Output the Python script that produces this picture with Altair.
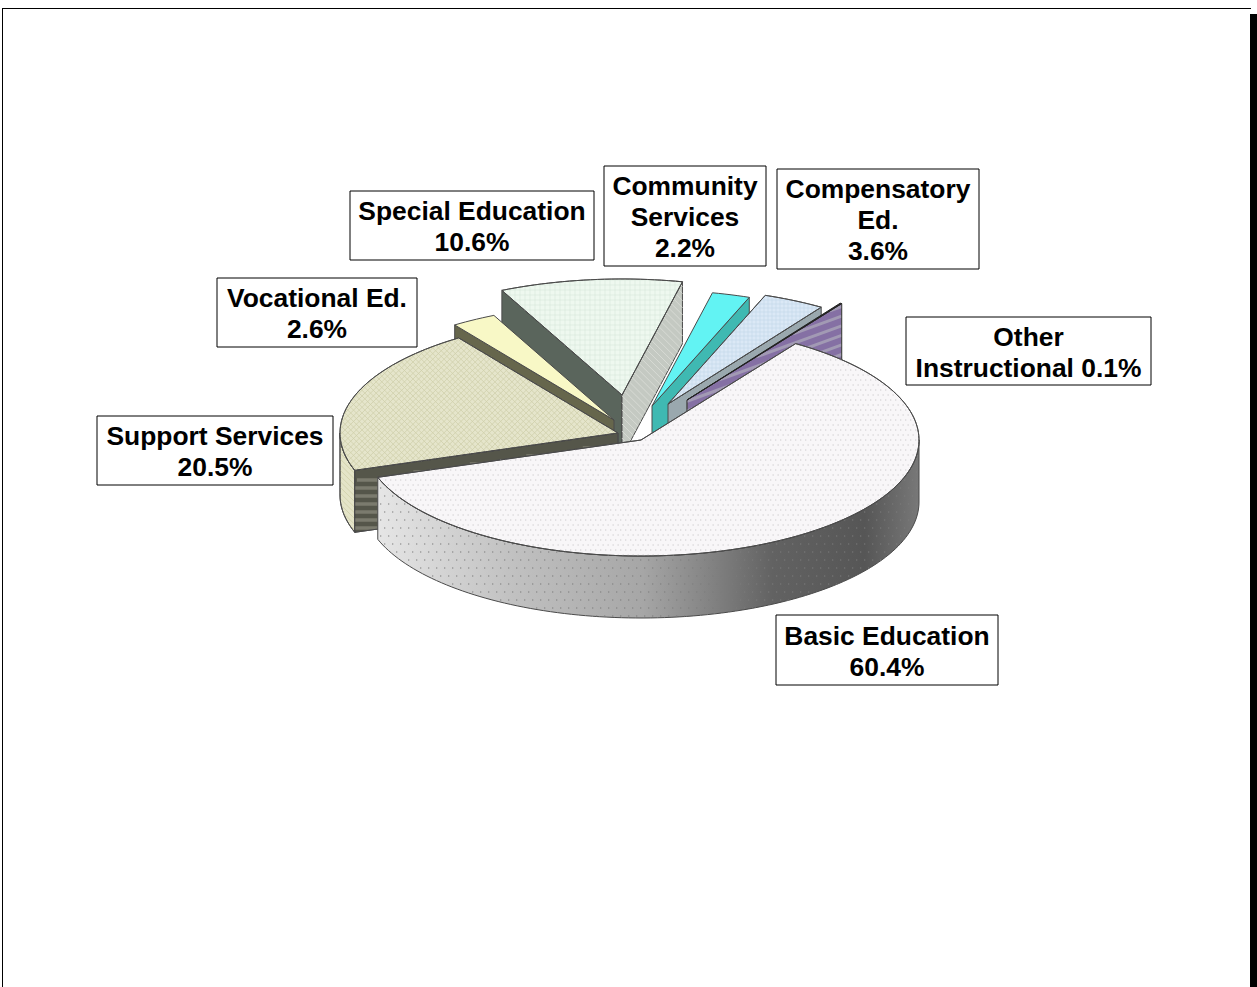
import numpy as np
import altair as alt

# Shares of spending, clockwise from the large front slice
categories = ["Basic Education", "Support Services", "Vocational Ed.", "Special Education",
              "Community Services", "Compensatory Ed.", "Other Instructional"]
shares = [60.4, 20.5, 2.6, 10.6, 2.2, 3.6, 0.1]
label_lines = [["Basic Education", "60.4%"], ["Support Services", "20.5%"], ["Vocational Ed.", "2.6%"],
               ["Special Education", "10.6%"], ["Community", "Services", "2.2%"],
               ["Compensatory", "Ed.", "3.6%"], ["Other", "Instructional 0.1%"]]

W, H = 1257, 987
RX, RY, DEPTH = 278.0, 116.0, 62.0
START = 33.8

# Apex of each exploded slice on the page
apex = [(641, 440), (618, 433), (614, 420), (622, 395), (652, 406), (668, 404), (687, 400)]
# Label boxes: left, right, top, bottom
boxes = [(776, 998, 615, 685), (97, 333, 416, 485), (217, 417, 278, 347), (350, 594, 191, 260),
         (604, 766, 166, 266), (777, 979, 169, 269), (906, 1151, 317, 385)]

EDGE = "#4a4a4a"


def pt(c, theta, drop=0.0):
    t = np.radians(theta)
    return (c[0] + RX * np.sin(t), c[1] - RY * np.cos(t) + drop)


def arc(c, a, b, drop=0.0):
    n = max(2, int(abs(b - a) / 1.5) + 2)
    return [pt(c, t, drop) for t in np.linspace(a, b, n)]


def spans(poly, step, angle, phase=0.0):
    """Scanline spans of a polygon, in a frame rotated by angle."""
    r = np.radians(angle)
    ca, sa = np.cos(r), np.sin(r)
    p = np.array(poly)
    u = p[:, 0] * ca + p[:, 1] * sa
    v = -p[:, 0] * sa + p[:, 1] * ca
    out = []
    k0 = np.floor(v.min() / step)
    k1 = np.ceil(v.max() / step)
    for k in np.arange(k0, k1 + 1):
        y = (k + phase) * step
        xs = []
        for i in range(len(p)):
            j = (i + 1) % len(p)
            if (v[i] <= y) != (v[j] <= y):
                xs.append(u[i] + (y - v[i]) / (v[j] - v[i]) * (u[j] - u[i]))
        xs.sort()
        for s in range(0, len(xs) - 1, 2):
            out.append((int(k), y, xs[s], xs[s + 1]))
    return out, ca, sa


def hatch(poly, step, angle=0.0):
    sp, ca, sa = spans(poly, step, angle)
    return [[[round(a * ca - y * sa, 2), round(a * sa + y * ca, 2)],
             [round(b * ca - y * sa, 2), round(b * sa + y * ca, 2)]] for _, y, a, b in sp]


def dots(poly, step, size=1.3):
    sp, _, _ = spans(poly, step, 0.0)
    lines = []
    for k, y, a, b in sp:
        off = step / 2 if k % 2 else 0.0
        for x in np.arange(np.ceil((a - off) / step) * step + off, b - size, step):
            lines.append([[round(float(x), 2), round(float(y), 2)], [round(float(x + size), 2), round(float(y), 2)]])
    return lines


def poly_feat(poly, fill, stroke=EDGE, sw=1.0):
    ring = [[round(float(x), 2), round(float(y), 2)] for x, y in poly]
    ring.append(ring[0])
    return {"type": "Feature", "properties": {"fill": fill, "stroke": stroke, "sw": sw},
            "geometry": {"type": "Polygon", "coordinates": [ring]}}


def line_feat(lines, color, sw=0.7):
    return {"type": "Feature", "properties": {"fill": "transparent", "stroke": color, "sw": sw},
            "geometry": {"type": "MultiLineString", "coordinates": lines}}


# Slice angle ranges come straight from the shares
ends = START + np.cumsum(np.array(shares) * 3.6)
starts = np.concatenate([[START], ends[:-1]])
idx = {name: i for i, name in enumerate(categories)}


def top(name):
    i = idx[name]
    return [apex[i]] + arc(apex[i], starts[i], ends[i])


def radial_wall(name, theta, upper=0.0):
    c = apex[idx[name]]
    o = pt(c, theta)
    return [(c[0], c[1] + upper), (o[0], o[1] + upper), (o[0], o[1] + DEPTH), (c[0], c[1] + DEPTH)]


def outer_wall(name, a, b):
    c = apex[idx[name]]
    return arc(c, a, b) + arc(c, a, b, DEPTH)[::-1]


def th(name):
    i = idx[name]
    return starts[i], ends[i]


feats = []

# Back slices first, front ones last, so nearer walls hide farther ones
s, e = th("Special Education")
w = radial_wall("Special Education", s)
feats += [poly_feat(w, "#5a655c")]
w = radial_wall("Special Education", e)
feats += [poly_feat(w, "#c4c9c2"), line_feat(hatch(w, 5, 45), "#d8dbd5", 1.0)]
t = top("Special Education")
feats += [poly_feat(t, "#eef8ef"), line_feat(hatch(t, 5, 0) + hatch(t, 5, 90), "#d6e7da", 0.6),
          poly_feat(t, "transparent")]

s, e = th("Vocational Ed.")
feats += [poly_feat(radial_wall("Vocational Ed.", s), "#66664c")]
feats += [poly_feat(top("Vocational Ed."), "#f8f8c6")]

s, e = th("Community Services")
feats += [poly_feat(radial_wall("Community Services", e), "#3fb9b2")]
feats += [poly_feat(top("Community Services"), "#62f3f3")]

s, e = th("Compensatory Ed.")
feats += [poly_feat(radial_wall("Compensatory Ed.", e), "#9aa8ae")]
t = top("Compensatory Ed.")
feats += [poly_feat(t, "#dbe8f6"), line_feat(hatch(t, 4, 0) + hatch(t, 4, 90), "#c5d7ea", 0.6),
          poly_feat(t, "transparent")]

s, e = th("Other Instructional")
w = radial_wall("Other Instructional", e)
feats += [poly_feat(w, "#8570a4"), line_feat(hatch(w, 9, -20), "#a29ab4", 3.0), poly_feat(w, "transparent")]
feats += [poly_feat(top("Other Instructional"), "#222222", "#222222")]

s, e = th("Support Services")
w = outer_wall("Support Services", s, 270)
feats += [poly_feat(w, "#e4e4c8"), line_feat(hatch(w, 4, 45), "#cfcfa8", 0.8), poly_feat(w, "transparent")]
w = radial_wall("Support Services", s)
feats += [poly_feat(w, "#55564a"), line_feat(hatch(radial_wall("Support Services", s, 10.0), 8, 0), "#7b7b6e", 3.5),
          poly_feat(w, "transparent")]
t = top("Support Services")
feats += [poly_feat(t, "#e5e5cb"), line_feat(hatch(t, 4, 45) + hatch(t, 4, -45), "#cfcfab", 0.8),
          poly_feat(t, "transparent")]

s, e = th("Basic Education")
basic_wall = outer_wall("Basic Education", 90, e)
t = top("Basic Education")
basic_feats = [line_feat(dots(basic_wall, 8), "#7c7c7c", 1.1), poly_feat(t, "#f8f6f8"),
               line_feat(dots(t, 5), "#cbcacb", 1.1), poly_feat(t, "transparent")]

# Page-frame bars, label boxes and text rows
frame_rows = [dict(x0=2, x1=3, y0=8, y1=H), dict(x0=2, x1=1251, y0=8, y1=9), dict(x0=1250, x1=W, y0=14, y1=H)]
box_rows = [dict(x0=b[0], x1=b[1], y0=b[2], y1=b[3]) for b in boxes]
LINE_H = 31.0
TEXT_SHIFT = 2.0
text_rows = []
for lines, b in zip(label_lines, boxes):
    mid = (b[2] + b[3]) / 2 + TEXT_SHIFT
    for k, txt in enumerate(lines):
        text_rows.append(dict(x=(b[0] + b[1]) / 2, y=mid + (k - (len(lines) - 1) / 2) * LINE_H, t=txt))

identity = dict(type="identity", scale=1, translate=[0, 0])


def geo_layer(features):
    return alt.Chart(alt.Data(values=features)).mark_geoshape().encode(
        fill=alt.Fill("properties.fill:N", scale=None),
        stroke=alt.Stroke("properties.stroke:N", scale=None),
        strokeWidth=alt.StrokeWidth("properties.sw:Q", scale=None),
    ).project(**identity)


wall_gradient = alt.LinearGradient(
    gradient="linear", x1=0, x2=1, y1=0, y2=0,
    stops=[alt.GradientStop(color="#e6e6e6", offset=0), alt.GradientStop(color="#c2c2c2", offset=0.24),
           alt.GradientStop(color="#a6a6a6", offset=0.49), alt.GradientStop(color="#626262", offset=0.73),
           alt.GradientStop(color="#565656", offset=0.9), alt.GradientStop(color="#787878", offset=1)])

basic_side = alt.Chart(alt.Data(values=[poly_feat(basic_wall, "none")])).mark_geoshape(
    fill=wall_gradient, stroke=EDGE, strokeWidth=1).project(**identity)


def rects(rows, **mark):
    return alt.Chart(alt.Data(values=rows)).mark_rect(**mark).encode(
        x=alt.X("x0:Q", scale=None, axis=None), x2="x1:Q",
        y=alt.Y("y0:Q", scale=None, axis=None), y2="y1:Q")


labels = alt.Chart(alt.Data(values=text_rows)).mark_text(
    font="Liberation Sans", fontWeight="bold", fontSize=26.4, color="black", baseline="middle", align="center"
).encode(x=alt.X("x:Q", scale=None, axis=None), y=alt.Y("y:Q", scale=None, axis=None), text="t:N")

chart = alt.layer(
    geo_layer(feats),
    basic_side,
    geo_layer(basic_feats),
    rects(box_rows, fill="white", stroke="black", strokeWidth=1),
    rects(frame_rows, fill="black"),
    labels,
).properties(width=W, height=H, padding=0, autosize=alt.AutoSizeParams(type="none"), background="white"
).configure_view(stroke=None)

chart.save("out.html", embed_options={"renderer": "svg", "actions": False})
